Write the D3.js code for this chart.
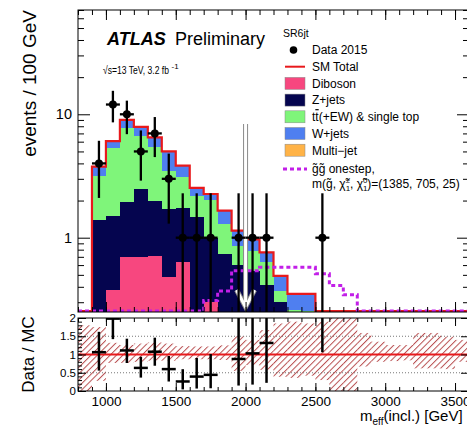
<!DOCTYPE html>
<html>
<head>
<meta charset="utf-8">
<script src="https://cdn.jsdelivr.net/npm/d3@7/dist/d3.min.js"></script>
<style>
  html, body { margin: 0; padding: 0; background: #fff; }
  text { font-family: "Liberation Sans", Arial, Helvetica, sans-serif; fill: #000; }
</style>
</head>
<body>
<svg id="chart" width="467" height="430"></svg>
<script>
// m_eff bins: lower edges in GeV, each 100 GeV wide
const binLow = [800, 900, 1000, 1100, 1200, 1300, 1400, 1500, 1600, 1700, 1800, 1900, 2000, 2100,
                2200, 2300, 2400, 2500, 2600, 2700, 2800, 2900, 3000, 3100, 3200, 3300, 3400, 3500];

// Expected background, events / 100 GeV
const diboson  = [0, 0.15, 0.38, 0.70, 0.70, 0.71, 0.48, 0.63, 0.20, 0.30, 0.05, 0.04, 0.03, 0.03,
                  0.02, 0.02, 0.01, 0.01, 0.01, 0, 0, 0, 0, 0, 0, 0, 0, 0];
const zjets    = [0, 1.23, 1.12, 1.23, 1.80, 1.29, 1.24, 1.12, 1.26, 0.70, 0.69, 0.56, 0.51, 0.38,
                  0.28, 0.18, 0.19, 0.08, 0.04, 0.03, 0.02, 0.02, 0.015, 0.01, 0.01, 0.01, 0.005, 0.005];
const ttbar    = [0, 1.80, 3.80, 5.87, 4.20, 3.40, 1.78, 1.33, 0.73, 1.03, 0.55, 0.25, 0.24, 0.22,
                  0.07, 0.06, 0.056, 0.03, 0.02, 0.02, 0.01, 0.01, 0.01, 0.005, 0.005, 0.005, 0, 0];
const wjets    = [0, 0.58, 0.75, 1.20, 1.20, 1.10, 1.50, 0.75, 0.34, 0.23, 0.37, 0.29, 0.19, 0.13,
                  0.12, 0.09, 0.094, 0.04, 0.03, 0.02, 0.02, 0.01, 0.01, 0.01, 0.005, 0.005, 0.005, 0.005];
const multijet = [0, 0.002, 0.002, 0.002, 0.002, 0.002, 0.002, 0.001, 0.001, 0.001, 0, 0, 0, 0,
                  0, 0, 0, 0, 0, 0, 0, 0, 0, 0, 0, 0, 0, 0];

// Signal: gluino one-step, m(gluino, chargino, neutralino) = (1385, 705, 25)
const signal   = [0.01, 0.01, 0.02, 0.03, 0.04, 0.05, 0.07, 0.10, 0.15, 0.31, 0.37, 0.54, 0.54, 0.575,
                  0.575, 0.575, 0.575, 0.51, 0.41, 0.345, 0.20, 0.12, 0.08, 0.05, 0.03, 0.02, 0.01, 0.01];

// Observed data 2015 and its error bars (down / up)
const dataCounts = [0, 4, 12, 10, 5, 7, 3, 1, 1, 1, 0, 1, 1, 1, 0, 0, 0, 1, 0, 0, 0, 0, 0, 0, 0, 0, 0, 0];
const dataErrUp  = [0, 2.1, 3.5, 2.9, 2.4, 2.5, 1.8, 1.29, 1.29, 1.29, 0, 1.29, 1.29, 1.29, 0, 0, 0, 1.29,
                    0, 0, 0, 0, 0, 0, 0, 0, 0, 0];
const dataErrDown= [0, 1.9, 3.4, 3.1, 2.1, 2.5, 1.7, 0.83, 0.83, 0.83, 0, 0.83, 0.83, 0.83, 0, 0, 0, 0.83,
                    0, 0, 0, 0, 0, 0, 0, 0, 0, 0];

// Relative uncertainty band on the SM expectation (ratio panel)
const bandLow  = [0, 0.28, 0.77, 0.77, 0.80, 0.83, 0.83, 0.87, 0.87, 0.87, 0.85, 0.55, 0.71, 0.58,
                  0.39, 0.36, 0.42, 0.30, 0, 0, 0.67, 0.80, 0.82, 0.84, 0.62, 0.62, 0.60, 0.80];
const bandHigh = [1.80, 1.75, 1.32, 1.26, 1.30, 1.33, 1.30, 1.23, 1.22, 1.22, 1.25, 1.50, 1.40, 1.67,
                  1.85, 1.90, 1.85, 1.90, 2.0, 2.0, 1.59, 1.35, 1.26, 1.26, 1.59, 1.59, 1.49, 1.40];

const xMajorTicks = [1000, 1500, 2000, 2500, 3000, 3500];
const yMajorTicks = [1, 10];
const ratioTicks  = [0, 0.5, 1, 1.5, 2];

const keys = ["diboson", "zjets", "ttbar", "wjets", "multijet"];
const colors = { diboson: "#f7477f", zjets: "#05054f", ttbar: "#7ff57a", wjets: "#4f7ff0", multijet: "#ffb347" };
const legendLabels = { diboson: "Diboson", zjets: "Z+jets", ttbar: "tt", wjets: "W+jets", multijet: "Multi\u2212jet" };

const BW = 100;
const rows = binLow.map((lo, i) => ({
  lo, diboson: diboson[i], zjets: zjets[i], ttbar: ttbar[i], wjets: wjets[i], multijet: multijet[i]
}));
const total = rows.map(r => keys.reduce((s, k) => s + r[k], 0));

const svg = d3.select("#chart");

// Panel geometry
const L = 78, R = 469, T = 10, B = 312, RT = 318, RB = 391;

const x = d3.scaleLinear().domain([800, 3600]).range([L, R]);
const y = d3.scaleLog().domain([0.25, 70]).range([B, T]);
const yr = d3.scaleLinear().domain([0, 2]).range([RB, RT]);

const defs = svg.append("defs");
defs.append("clipPath").attr("id", "clipTop")
  .append("rect").attr("x", L).attr("y", T).attr("width", R - L).attr("height", B - T);
defs.append("clipPath").attr("id", "clipRat")
  .append("rect").attr("x", L).attr("y", RT).attr("width", R - L).attr("height", RB - RT);
const hatch = defs.append("pattern").attr("id", "hatch").attr("patternUnits", "userSpaceOnUse")
  .attr("width", 4.5).attr("height", 4.5).attr("patternTransform", "rotate(45)");
hatch.append("line").attr("x1", 0).attr("y1", 0).attr("x2", 0).attr("y2", 4.5)
  .attr("stroke", "#b03a3c").attr("stroke-width", 2);

const ySafe = v => (v > 0 ? y(v) : B + 50);

// ---------- Upper panel ----------
const upper = svg.append("g").attr("clip-path", "url(#clipTop)");

const stack = d3.stack().keys(keys)(rows);
stack.forEach(series => {
  upper.append("g").selectAll("rect").data(series).join("rect")
    .attr("x", d => x(d.data.lo))
    .attr("width", d => x(d.data.lo + BW) - x(d.data.lo))
    .attr("y", d => ySafe(d[1]))
    .attr("height", d => Math.max(0, ySafe(d[0]) - ySafe(d[1])))
    .attr("fill", colors[series.key])
    .attr("shape-rendering", "crispEdges");
});

// Step outline helper: values below the axis sit on the lower frame
function stepPoints(vals, floorY) {
  const pts = [];
  vals.forEach((v, i) => {
    const yy = v > 0 ? Math.min(y(v), floorY) : floorY;
    pts.push([x(binLow[i]), yy], [x(binLow[i] + BW), yy]);
  });
  return pts;
}

// SM total
upper.append("path")
  .attr("d", d3.line()(stepPoints(total, B - 1)))
  .attr("fill", "none").attr("stroke", "#e8191c").attr("stroke-width", 2.2);

// Signal
upper.append("path")
  .attr("d", d3.line()(stepPoints(signal, B - 1)))
  .attr("fill", "none").attr("stroke", "#c21fe8").attr("stroke-width", 3)
  .attr("stroke-dasharray", "4,3");

// Cut arrow at m_eff = 2000 GeV
const ax = x(2000);
const arrowPath = `M${ax},${124} L${ax},${306} M${ax - 9},${290} L${ax},${307} L${ax + 9},${290}`;
const arrow = upper.append("g");
arrow.append("path").attr("d", arrowPath)
  .attr("fill", "none").attr("stroke", "#8a8a8a").attr("stroke-width", 5).attr("stroke-linejoin", "miter");
arrow.append("path").attr("d", arrowPath)
  .attr("fill", "none").attr("stroke", "#ffffff").attr("stroke-width", 3).attr("stroke-linejoin", "miter");

// Data points
const dataIdx = dataCounts.map((n, i) => i).filter(i => dataCounts[i] > 0);
const dg = upper.append("g");
dataIdx.forEach(i => {
  const n = dataCounts[i];
  const cx = x(binLow[i] + BW / 2);
  const lo = n - dataErrDown[i];
  dg.append("line").attr("x1", cx).attr("x2", cx)
    .attr("y1", y(n + dataErrUp[i])).attr("y2", lo > 0 ? y(lo) : B + 10)
    .attr("stroke", "#000").attr("stroke-width", 2.3);
  dg.append("line").attr("x1", x(binLow[i])).attr("x2", x(binLow[i] + BW))
    .attr("y1", y(n)).attr("y2", y(n)).attr("stroke", "#000").attr("stroke-width", 2.3);
  dg.append("circle").attr("cx", cx).attr("cy", y(n)).attr("r", 4).attr("fill", "#000");
});

// Frame and axes of upper panel
function drawTicksX(sel, yPos, dir, major, minor) {
  const axF = dir === "up" ? d3.axisBottom : d3.axisTop;
  sel.append("g").attr("transform", `translate(0,${yPos})`)
    .call(axF(x).tickValues(d3.range(800, 3601, 100)).tickSize(-minor).tickFormat(""))
    .call(g => g.select(".domain").remove());
  sel.append("g").attr("transform", `translate(0,${yPos})`)
    .call(axF(x).tickValues(xMajorTicks).tickSize(-major).tickFormat(""))
    .call(g => g.select(".domain").remove());
}

const frame = svg.append("g");
frame.append("rect").attr("x", L).attr("y", T).attr("width", R - L).attr("height", B - T)
  .attr("fill", "none").attr("stroke", "#000").attr("stroke-width", 1);
drawTicksX(frame, B, "up", 10, 5);
drawTicksX(frame, T, "down", 10, 5);

const yMinor = [0.3, 0.4, 0.5, 0.6, 0.7, 0.8, 0.9, 2, 3, 4, 5, 6, 7, 8, 9, 20, 30, 40, 50, 60, 70];
frame.append("g").attr("transform", `translate(${L},0)`)
  .call(d3.axisLeft(y).tickValues(yMinor).tickSize(-6).tickFormat(""))
  .call(g => g.select(".domain").remove());
frame.append("g").attr("transform", `translate(${L},0)`)
  .call(d3.axisLeft(y).tickValues(yMajorTicks).tickSize(-12).tickPadding(6).tickFormat(d3.format("d")))
  .call(g => g.select(".domain").remove())
  .call(g => g.selectAll("text").attr("font-size", 14.5).attr("font-family", "Liberation Sans, Arial, sans-serif"));
frame.append("g").attr("transform", `translate(${R},0)`)
  .call(d3.axisRight(y).tickValues(yMinor).tickSize(-6).tickFormat(""))
  .call(g => g.select(".domain").remove());
frame.append("g").attr("transform", `translate(${R},0)`)
  .call(d3.axisRight(y).tickValues(yMajorTicks).tickSize(-12).tickFormat(""))
  .call(g => g.select(".domain").remove());

// ---------- Ratio panel ----------
const rat = svg.append("g").attr("clip-path", "url(#clipRat)");
rat.append("g").selectAll("rect").data(binLow.map((lo, i) => i)).join("rect")
  .attr("x", i => x(binLow[i]))
  .attr("width", i => x(binLow[i] + BW) - x(binLow[i]))
  .attr("y", i => yr(bandHigh[i]))
  .attr("height", i => yr(bandLow[i]) - yr(bandHigh[i]))
  .attr("fill", "url(#hatch)").attr("opacity", 0.9);

[0.5, 1.5].forEach(v => {
  rat.append("line").attr("x1", L).attr("x2", R).attr("y1", yr(v)).attr("y2", yr(v))
    .attr("stroke", "#777").attr("stroke-width", 1).attr("stroke-dasharray", "1,2");
});
rat.append("line").attr("x1", L).attr("x2", R).attr("y1", yr(1)).attr("y2", yr(1))
  .attr("stroke", "#e8191c").attr("stroke-width", 2.2);

dataIdx.forEach(i => {
  const t = total[i];
  const r = dataCounts[i] / t;
  const up = r + dataErrUp[i] / t, dn = r - dataErrDown[i] / t;
  const cx = x(binLow[i] + BW / 2);
  rat.append("line").attr("x1", cx).attr("x2", cx)
    .attr("y1", yr(Math.min(up, 2.2))).attr("y2", yr(Math.max(dn, -0.2)))
    .attr("stroke", "#000").attr("stroke-width", 2.5);
  if (r <= 2.02) {
    rat.append("line").attr("x1", x(binLow[i])).attr("x2", x(binLow[i] + BW))
      .attr("y1", yr(Math.min(r, 1.985))).attr("y2", yr(Math.min(r, 1.985)))
      .attr("stroke", "#000").attr("stroke-width", 2.5);
  }
});

const rframe = svg.append("g");
rframe.append("rect").attr("x", L).attr("y", RT).attr("width", R - L).attr("height", RB - RT)
  .attr("fill", "none").attr("stroke", "#000").attr("stroke-width", 1);
drawTicksX(rframe, RT, "down", 8, 4);
rframe.append("g").attr("transform", `translate(0,${RB})`)
  .call(d3.axisBottom(x).tickValues(d3.range(800, 3601, 100)).tickSize(-4).tickFormat(""))
  .call(g => g.select(".domain").remove());
rframe.append("g").attr("transform", `translate(0,${RB})`)
  .call(d3.axisBottom(x).tickValues(xMajorTicks).tickSize(-8).tickPadding(5).tickFormat(d3.format("d")))
  .call(g => g.select(".domain").remove())
  .call(g => g.selectAll("text").attr("font-size", 13.5).attr("font-family", "Liberation Sans, Arial, sans-serif"));

rframe.append("g").attr("transform", `translate(${L},0)`)
  .call(d3.axisLeft(yr).tickValues(d3.range(0, 2.01, 0.1)).tickSize(-4).tickFormat(""))
  .call(g => g.select(".domain").remove());
rframe.append("g").attr("transform", `translate(${L},0)`)
  .call(d3.axisLeft(yr).tickValues(ratioTicks).tickSize(-8).tickPadding(2).tickFormat(d => String(d)))
  .call(g => g.select(".domain").remove())
  .call(g => g.selectAll("text").attr("font-size", 11.5).attr("font-family", "Liberation Sans, Arial, sans-serif"));
rframe.append("g").attr("transform", `translate(${R},0)`)
  .call(d3.axisRight(yr).tickValues(ratioTicks).tickSize(-8).tickFormat(""))
  .call(g => g.select(".domain").remove());

// ---------- Titles ----------
svg.append("text").attr("transform", "translate(36,10) rotate(-90)")
  .attr("text-anchor", "end").attr("font-size", 19).text("events / 100 GeV");
svg.append("text").attr("transform", "translate(34,354.5) rotate(-90)")
  .attr("text-anchor", "middle").attr("font-size", 17).text("Data / MC");

const xt = svg.append("text").attr("x", 360).attr("y", 421).attr("font-size", 15);
xt.append("tspan").text("m");
xt.append("tspan").attr("font-size", 10).attr("dy", 4).text("eff");
xt.append("tspan").attr("dy", -4).text("(incl.) [GeV]");

// ATLAS label
svg.append("text").attr("x", 107).attr("y", 45).attr("font-size", 18)
  .attr("font-weight", "bold").attr("font-style", "italic").text("ATLAS");
svg.append("text").attr("x", 175).attr("y", 45).attr("font-size", 18).text("Preliminary");
svg.append("text").attr("x", 103).attr("y", 74).attr("font-size", 11.5)
  .attr("textLength", 66).attr("lengthAdjust", "spacingAndGlyphs")
  .text("\u221As=13 TeV, 3.2 fb");
svg.append("text").attr("x", 171.5).attr("y", 68.5).attr("font-size", 8).text("-1");

// ---------- Legend ----------
const lg = svg.append("g");
lg.append("text").attr("x", 283).attr("y", 37).attr("font-size", 10.5).text("SR6jt");
const lx = 285, tx = 312;
const rowY = [50, 66.7, 83.4, 100.1, 116.8, 133.5, 150.2, 169, 186];
lg.append("circle").attr("cx", 293.5).attr("cy", rowY[0]).attr("r", 3.8).attr("fill", "#000");
lg.append("text").attr("x", tx).attr("y", rowY[0] + 4.3).attr("font-size", 12).text("Data 2015");
lg.append("line").attr("x1", lx).attr("x2", lx + 20).attr("y1", rowY[1]).attr("y2", rowY[1])
  .attr("stroke", "#e8191c").attr("stroke-width", 2);
lg.append("text").attr("x", tx).attr("y", rowY[1] + 4.3).attr("font-size", 12).text("SM Total");
keys.forEach((k, j) => {
  const yy = rowY[2 + j];
  lg.append("rect").attr("x", lx).attr("y", yy - 6).attr("width", 20).attr("height", 12)
    .attr("fill", colors[k]).attr("stroke", "#888").attr("stroke-width", 0.5);
  const t = lg.append("text").attr("x", tx).attr("y", yy + 4.3).attr("font-size", 12);
  if (k === "ttbar") {
    t.append("tspan").text("t");
    t.append("tspan").style("text-decoration", "overline").text("t");
    t.append("tspan").text("(+EW) & single top");
  } else {
    t.text(legendLabels[k]);
  }
});
lg.append("line").attr("x1", 283).attr("x2", 307).attr("y1", rowY[7]).attr("y2", rowY[7])
  .attr("stroke", "#c21fe8").attr("stroke-width", 3).attr("stroke-dasharray", "4,3");
lg.append("text").attr("x", tx).attr("y", rowY[7] + 4.3).attr("font-size", 12)
  .text("g\u0303g\u0303 onestep,");
const mt = lg.append("text").attr("x", tx).attr("y", rowY[8] + 2).attr("font-size", 12);
mt.append("tspan").text("m(g\u0303, \u03C7\u0303");
mt.append("tspan").attr("font-size", 8).attr("dy", 3).text("1");
mt.append("tspan").attr("font-size", 8).attr("dy", -8).attr("dx", -4.5).text("\u00B1");
mt.append("tspan").attr("dy", 5).text(", \u03C7\u0303");
mt.append("tspan").attr("font-size", 8).attr("dy", 3).text("1");
mt.append("tspan").attr("font-size", 8).attr("dy", -8).attr("dx", -4.5).text("0");
mt.append("tspan").attr("dy", 5).text(")=(1385, 705, 25)");
</script>
</body>
</html>
